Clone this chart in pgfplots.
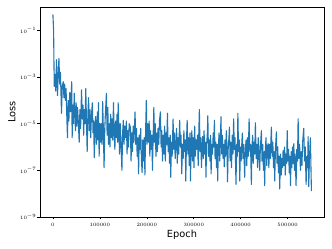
\documentclass[border=0pt]{standalone}
\usepackage{fontspec}
\usepackage{pgfplots}
\pgfplotsset{compat=1.18}
\newfontfamily\dejavu{DejaVu Sans}
\definecolor{tabblue}{RGB}{31,119,180}
\begin{document}
\begin{tikzpicture}
\begin{axis}[
  scale only axis, width=284pt, height=210pt,
  ymode=log, log basis y=10,
  xmin=-27500, xmax=577500,
  ymin=1e-9, ymax=1,
  ytick={1e-9,1e-7,1e-5,1e-3,1e-1},
  yminorticks=false, xminorticks=false,
  xtick={0,100000,200000,300000,400000,500000},
  scaled x ticks=false,
  xticklabel style={/pgf/number format/fixed, /pgf/number format/1000 sep={}},
  tick label style={font=\fontsize{5.5}{6.5}\selectfont},
  yticklabel style={inner sep=1pt},
  tick align=outside, major tick length=2.5pt,
  tick style={black, line width=0.5pt},
  axis line style={black, line width=0.6pt},
  xtick pos=bottom, ytick pos=left,
  xlabel={Epoch}, ylabel={Loss},
  label style={font=\dejavu\fontsize{9.8}{12}\selectfont},
  xlabel style={at={(axis description cs:0.5,-0.0857)}, anchor=center},
  ylabel style={at={(axis description cs:-0.0986,0.5)}, anchor=center},
]
\addplot[tabblue, line width=1.1pt, line join=round, mark=none] table {
0 4.8e-1
1500 1e-1
2800 4.0e-4
4500 1.3e-3
6000 2.5e-4
7700 5.5e-3
9800 1.6e-4
11300 1.3e-3
12800 6.3e-3
14500 5.0e-4
16000 1.6e-3
18300 2.8e-5
20000 4.0e-4
22000 6.3e-4
23500 1.3e-4
25000 5.0e-4
26500 1e-4
28000 3.2e-4
29500 2.5e-5
31000 2.5e-6
32500 1e-4
34000 1.3e-5
36000 2.2e-4
37500 3.2e-5
39000 1.6e-4
40000 6.3e-4
41000 2.5e-6
42500 6.3e-5
44000 1e-5
45500 2.0e-4
47000 2.5e-5
48000 5.0e-6
49500 7.9e-5
51000 7.9e-6
52500 5.0e-5
54000 1.3e-5
56000 1.6e-6
57500 4.0e-5
59000 6.3e-6
61000 2.8e-4
62500 1.6e-5
64000 6.3e-5
65500 3.2e-6
67000 4.0e-5
68500 1e-5
70000 3.2e-4
71500 1.3e-5
73000 6.3e-7
74500 2.5e-5
76000 1.3e-4
77500 5.0e-6
79000 4.0e-5
80500 2.5e-6
82000 2.0e-5
84000 7.9e-5
85500 4.0e-6
87000 1.3e-5
88000 3.5e-7
89500 6.3e-6
91000 2.0e-5
92500 1.3e-6
94000 1.3e-5
95000 3.2e-5
96000 2.0e-6
97000 7.9e-5
98500 4.0e-7
100000 1e-5
101500 1.6e-6
103000 1e-5
104500 1.3e-6
106000 8.9e-5
107500 5.0e-6
109000 1.3e-7
110500 6.3e-6
112000 3.2e-5
114000 2.0e-4
115500 3.2e-6
117000 5.0e-5
118500 1.3e-6
120000 1e-5
121500 1e-6
123000 2.5e-5
124500 2.5e-6
126000 1.6e-5
127500 2.0e-6
129000 7.9e-5
130500 4.0e-6
132000 7.9e-7
133500 1.3e-5
135000 2.5e-6
136500 2.5e-5
138000 1.6e-6
139000 7.9e-5
140500 6.3e-6
142000 5.0e-7
143500 1e-5
145000 1.6e-6
147000 1e-7
148500 4.0e-6
150000 1.4e-5
151500 1.3e-6
153000 7.9e-6
155000 2.5e-6
156500 1.3e-5
158000 5.0e-7
159500 5.0e-6
161000 1e-6
162500 1e-5
165000 7.1e-6
166500 2.5e-7
168000 4.0e-6
169500 6.3e-7
171000 7.9e-6
172500 1.6e-6
175000 3.2e-5
176500 1.3e-6
178000 6.3e-6
179500 4.0e-7
181000 2.5e-6
182500 7.1e-8
184000 3.2e-6
185500 7.9e-7
187000 6.3e-6
188500 3.2e-7
190000 7.9e-8
191500 2.0e-6
193000 2.5e-7
194500 2.5e-6
196000 6.3e-8
197500 5.0e-6
199000 1e-4
200500 1.3e-6
202000 1e-5
203500 1.6e-6
205000 1.3e-5
206500 4.0e-7
208000 5.0e-6
209500 7.9e-7
211000 3.2e-6
212000 1e-7
213500 2.5e-6
215000 5.0e-5
216500 1.6e-6
218000 1e-5
219500 4.0e-7
221000 4.0e-6
222500 6.3e-7
224000 6.3e-6
225500 1.3e-6
227000 1.3e-5
229000 3.2e-5
230500 1e-6
232000 5.0e-6
233500 2.5e-7
235000 3.2e-6
236500 5.0e-7
238000 7.9e-6
239500 2.5e-7
241000 4.0e-6
242500 1.3e-6
244000 2.8e-5
245500 6.3e-7
247000 2.5e-6
248500 2.0e-7
250000 3.2e-6
251000 5.0e-8
252500 1.6e-6
254000 4.0e-7
256000 1.6e-5
257500 7.9e-7
259000 4.0e-6
260500 3.2e-7
262000 1.4e-6
263500 6.3e-6
265000 2.0e-7
266500 2.5e-6
268000 5.0e-7
270000 1.4e-5
271500 1e-6
273000 3.2e-6
274500 7.1e-8
276000 1.3e-6
277500 3.2e-7
279000 5.0e-6
280500 6.3e-7
282000 2.0e-6
283000 3.5e-8
284500 1.6e-6
286000 1.4e-5
287500 5.0e-7
289000 2.5e-6
290500 1.6e-7
292000 4.0e-6
293000 3.5e-8
294500 1e-6
296000 5.0e-6
297500 2.5e-7
299000 2.5e-6
300500 1.3e-7
302000 7.9e-6
303500 4.0e-7
305000 2.0e-6
306500 7.9e-7
308000 3.2e-6
309500 1.6e-7
311000 6.3e-6
312000 4.0e-5
313500 6.3e-7
315000 2.5e-6
316500 1.3e-7
318000 1.3e-6
319000 2.8e-6
320500 3.2e-7
322000 5.0e-6
323500 5.0e-7
325000 1.6e-6
326000 5.0e-8
327500 1.3e-6
329000 4.0e-6
330000 2.2e-5
331500 4.0e-7
333000 2.0e-6
334500 2.5e-7
336000 3.2e-6
337000 7.1e-8
338500 1.3e-6
340000 5.0e-7
341500 4.0e-6
343000 1e-6
344000 1.4e-5
345500 3.2e-7
347000 1.6e-6
348500 1.3e-7
350000 1.3e-6
351000 3.5e-8
352500 1e-6
354000 4.0e-6
355500 2.5e-7
357000 2.5e-6
358000 2.0e-5
359500 5.0e-7
361000 3.2e-6
362500 3.2e-7
364000 1.3e-6
365000 1.4e-7
366500 2.0e-6
368000 4.0e-7
369500 5.0e-6
371000 6.3e-7
372000 3.2e-8
373500 1e-6
375000 2.5e-6
376000 7.1e-6
377500 2.5e-7
379000 1.6e-6
380500 1.3e-7
382000 3.2e-6
383500 5.0e-7
385000 1.6e-5
386500 7.9e-7
388000 2.5e-6
390000 2.5e-8
391500 1.3e-6
393000 4.0e-7
394000 2.8e-5
395500 6.3e-7
397000 2.0e-6
398000 3.5e-8
399500 1e-6
401000 2.5e-7
402500 1.6e-6
403600 4.0e-6
405000 3.2e-7
406500 1.3e-6
408500 5.0e-8
410000 7.9e-7
411500 2.0e-6
413000 1.6e-7
414500 2.5e-6
416000 4.0e-7
418000 1.6e-5
419500 6.3e-7
421000 1.3e-6
422800 2.5e-8
424000 1e-6
425500 3.2e-6
427000 2.0e-7
428500 1.6e-6
430000 5.0e-7
431300 1.1e-5
433000 3.2e-7
434500 1.3e-6
436000 1.3e-7
437500 2.5e-6
439000 6.3e-7
440500 1e-7
442000 1e-6
444100 5.0e-6
445500 2.5e-7
447000 1.3e-6
448500 1e-7
450000 6.3e-7
451100 2.2e-8
452500 7.9e-7
454000 2.5e-6
455500 1.6e-7
457000 1e-6
458400 1.4e-6
460000 1.3e-7
461500 1.3e-6
463000 3.2e-7
465400 7.1e-6
467000 4.0e-7
468500 1.6e-6
470000 1.3e-7
471500 6.3e-7
472500 3.5e-8
474000 7.9e-7
476100 4.5e-6
477500 2.0e-7
479000 1e-6
480500 7.9e-8
482000 4.0e-7
483100 1.6e-8
485000 5.0e-7
486500 6.3e-8
488000 3.2e-7
489000 1.3e-7
490400 7.1e-7
492000 1.6e-7
493500 1e-6
495000 6.3e-8
496500 5.0e-7
498000 2.0e-7
499100 5.0e-6
500500 2.5e-7
502000 7.9e-7
503500 7.9e-8
505000 4.0e-7
506100 2.2e-8
507500 6.3e-7
509000 1.3e-7
510500 1e-6
512000 2.0e-7
513200 1.4e-6
514500 1e-7
516000 5.0e-7
518000 2.2e-8
519500 7.9e-7
521000 2.5e-7
522400 1.6e-5
524000 3.2e-7
525500 1.3e-6
527300 1e-7
529000 6.3e-7
530500 1.6e-7
532000 1.6e-6
534300 6.3e-6
536000 2.5e-7
537500 1e-6
539400 2.5e-8
541000 4.0e-7
542500 1.3e-7
543700 2.8e-6
545000 2.0e-8
546500 3.2e-7
548500 2.5e-6
550700 1.3e-8
};
\end{axis}
\pgfresetboundingbox
\path ([xshift=-40pt,yshift=-32pt]current axis.south west) rectangle ([xshift=8pt,yshift=7pt]current axis.north east);
\end{tikzpicture}
\end{document}
